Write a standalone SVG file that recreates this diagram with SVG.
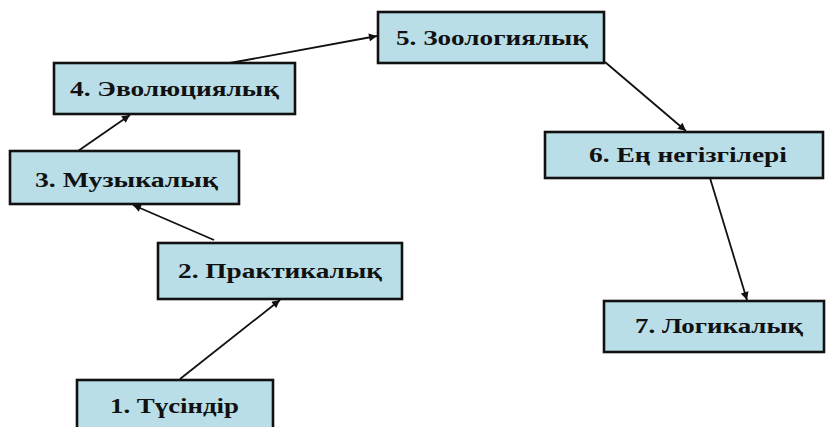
<svg xmlns="http://www.w3.org/2000/svg" width="826" height="427" viewBox="0 0 826 427">
<defs>
<style>
.box{fill:#B9DEE8;stroke:#111;stroke-width:2.6}
.lbl{font-family:"Liberation Serif","Times New Roman",serif;font-weight:bold;font-size:20px;fill:#111}
.edge{stroke:#111;stroke-width:1.8;fill:none;marker-end:url(#ah)}
</style>
<marker id="ah" viewBox="0 0 10 10" refX="10" refY="5" markerWidth="9" markerHeight="8" markerUnits="userSpaceOnUse" orient="auto">
<path d="M0,0 L10,5 L0,10 z" fill="#111"/>
</marker>
</defs>
<rect width="826" height="427" fill="#fff"/>
<g id="connectors">
<line class="edge" x1="180" y1="379" x2="280" y2="300"/>
<line class="edge" x1="214" y1="240" x2="133" y2="205"/>
<line class="edge" x1="78" y1="151" x2="130" y2="115"/>
<line class="edge" x1="230" y1="63" x2="377" y2="36"/>
<line class="edge" x1="605" y1="62" x2="686" y2="131"/>
<line class="edge" x1="710" y1="178" x2="747" y2="300"/>
</g>
<g id="n1">
<rect class="box" x="77" y="380" width="196" height="60"/>
<text class="lbl" x="110" y="413" textLength="129" lengthAdjust="spacingAndGlyphs">1. Түсіндір</text>
</g>
<g id="n2">
<rect class="box" x="158" y="243" width="244" height="56"/>
<text class="lbl" x="178" y="278" textLength="204" lengthAdjust="spacingAndGlyphs">2. Практикалық</text>
</g>
<g id="n3">
<rect class="box" x="10" y="151" width="229" height="53"/>
<text class="lbl" x="35" y="187" textLength="183" lengthAdjust="spacingAndGlyphs">3. Музыкалық</text>
</g>
<g id="n4">
<rect class="box" x="54" y="63" width="241" height="51"/>
<text class="lbl" x="70" y="96" textLength="209" lengthAdjust="spacingAndGlyphs">4. Эволюциялық</text>
</g>
<g id="n5">
<rect class="box" x="378" y="12" width="226" height="51"/>
<text class="lbl" x="396" y="45" textLength="192" lengthAdjust="spacingAndGlyphs">5. Зоологиялық</text>
</g>
<g id="n6">
<rect class="box" x="545" y="132" width="278" height="46"/>
<text class="lbl" x="589" y="162" textLength="198" lengthAdjust="spacingAndGlyphs">6. Ең негізгілері</text>
</g>
<g id="n7">
<rect class="box" x="604" y="301" width="220" height="51"/>
<text class="lbl" x="635" y="333" textLength="168" lengthAdjust="spacingAndGlyphs">7. Логикалық</text>
</g>
</svg>
